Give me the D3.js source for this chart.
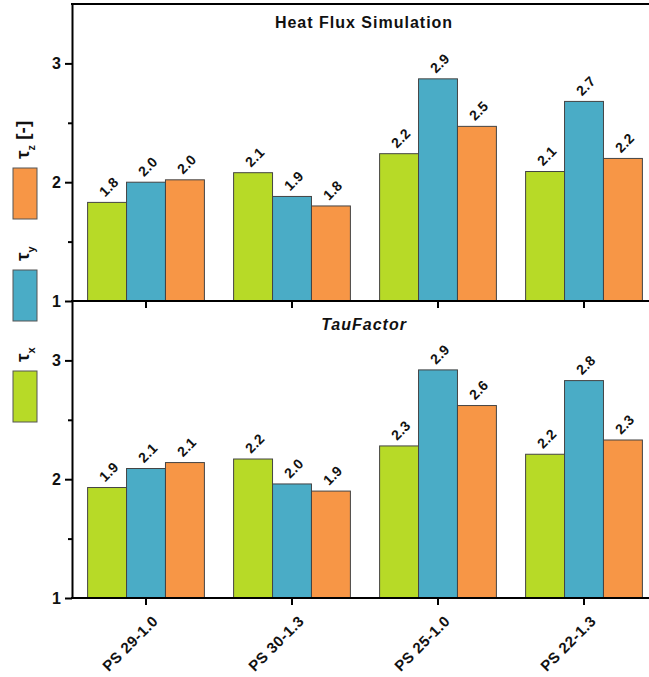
<!DOCTYPE html>
<html>
<head>
<meta charset="utf-8">
<script src="https://cdn.jsdelivr.net/npm/d3@7"></script>
<style>
  body{margin:0;background:#fff;}
  svg{display:block;font-family:"Liberation Sans",Arial,sans-serif;}
  .axis path,.axis line{stroke:#000;stroke-width:2;}
  .axis text{font-family:"Liberation Sans",Arial,sans-serif;font-size:15px;font-weight:bold;fill:#111;}
  .axis .ylab{font-size:16px;}
</style>
</head>
<body>
<div id="chart"></div>
<script>
// ---- data ----
var samples = ["PS 29-1.0","PS 30-1.3","PS 25-1.0","PS 22-1.3"];
var series  = ["tx","ty","tz"];
var seriesSub = {tx:"x", ty:"y", tz:"z"};
var heatFlux = {
    tx:[1.83,2.08,2.24,2.09],
    ty:[2.00,1.88,2.87,2.68],
    tz:[2.02,1.80,2.47,2.20]
};
var tauFactor = {
    tx:[1.93,2.17,2.28,2.21],
    ty:[2.09,1.96,2.92,2.83],
    tz:[2.14,1.90,2.62,2.33]
};
var yTicks = [1,2,3];
var yMinorTicks = [1.5,2.5];
var colors = {tx:"#b7da27", ty:"#4aacc6", tz:"#f79646"};

var width = 649, height = 677;
var left = 72;
var panels = [
    {title:"Heat Flux Simulation", italic:false, data:heatFlux, top:4, bottom:301, titleY:28},
    {title:"TauFactor", italic:true, data:tauFactor, top:301, bottom:598, titleY:330}
];

var svg = d3.select("#chart").append("svg")
    .attr("width", width).attr("height", height);

var x = d3.scaleBand().domain(samples).range([73, 657])
    .paddingInner(0.2).paddingOuter(0.1);
var xs = d3.scaleBand().domain(series).range([0, x.bandwidth()]);
var fmt = d3.format(".1f");

panels.forEach(function(p, pi){
    var y = d3.scaleLinear().domain([1, 3.5]).range([p.bottom, p.top]);
    var g = svg.append("g");

    // bars
    var grp = g.selectAll("g.grp").data(samples).enter().append("g")
        .attr("transform", function(d){ return "translate(" + x(d) + ",0)"; });
    grp.selectAll("rect").data(function(d, i){
            return series.map(function(s){ return {s:s, v:p.data[s][i]}; });
        }).enter().append("rect")
        .attr("x", function(d){ return xs(d.s); })
        .attr("y", function(d){ return y(d.v); })
        .attr("width", xs.bandwidth())
        .attr("height", function(d){ return y(1) - y(d.v); })
        .attr("fill", function(d){ return colors[d.s]; })
        .attr("stroke", "#444").attr("stroke-width", 1);
    grp.selectAll("text").data(function(d, i){
            return series.map(function(s){ return {s:s, v:p.data[s][i]}; });
        }).enter().append("text")
        .attr("transform", function(d){
            return "translate(" + (xs(d.s) + xs.bandwidth()/2 - 2) + "," + (y(d.v) - 5) + ") rotate(-45)";
        })
        .attr("font-size", "14px").attr("font-weight", "bold").attr("fill", "#111")
        .attr("letter-spacing", "0.3px")
        .text(function(d){ return fmt(d.v); });

    // title
    g.append("text").attr("x", 364).attr("y", p.titleY)
        .attr("text-anchor", "middle")
        .attr("font-size", "16px").attr("font-weight", "bold")
        .attr("font-style", p.italic ? "italic" : "normal")
        .attr("letter-spacing", "1px")
        .attr("fill", "#111")
        .text(p.title);

    // y axis
    g.append("g").attr("class", "axis").attr("transform", "translate(" + left + ",0)")
        .call(d3.axisLeft(y).tickValues(yTicks).tickSize(7).tickSizeOuter(0).tickFormat(d3.format("d")))
        .call(function(a){ a.selectAll("text").attr("class", "ylab").attr("x", -11); });
    g.append("g").attr("class", "axis").attr("transform", "translate(" + left + ",0)")
        .call(d3.axisLeft(y).tickValues(yMinorTicks).tickSize(4).tickSizeOuter(0).tickFormat(""))
        .call(function(a){ a.select(".domain").remove(); });

    // x axis
    var xa = g.append("g").attr("class", "axis").attr("transform", "translate(0," + p.bottom + ")")
        .call(d3.axisBottom(x).tickSize(7).tickSizeOuter(0));
    xa.select(".domain").attr("d", "M" + (left - 1) + ",0H" + width);
    if (pi === 0) {
        xa.selectAll("text").remove();
    } else {
        xa.selectAll("text")
            .attr("letter-spacing", "0.5px")
            .attr("text-anchor", "end")
            .attr("y", 0).attr("dy", 0)
            .attr("transform", "translate(13,24) rotate(-45)");
    }
});

// top frame line
svg.append("line").attr("x1", left - 1).attr("x2", width).attr("y1", 4).attr("y2", 4)
    .attr("stroke", "#000").attr("stroke-width", 2);

// legend (acts as y label)
var legendItems = [
    {s:"tz", top:168, extra:" [-]"},
    {s:"ty", top:270, extra:""},
    {s:"tx", top:371, extra:""}
];
var lg = svg.append("g");
lg.selectAll("rect").data(legendItems).enter().append("rect")
    .attr("x", 13).attr("y", function(d){ return d.top; })
    .attr("width", 24).attr("height", 51)
    .attr("fill", function(d){ return colors[d.s]; })
    .attr("stroke", "#555").attr("stroke-width", 1);
var lt = lg.selectAll("text").data(legendItems).enter().append("text")
    .attr("transform", function(d){ return "translate(29," + (d.top - 9) + ") rotate(-90)"; })
    .attr("font-size", "19px").attr("font-weight", "bold").attr("fill", "#111");
lt.append("tspan").text("τ");
lt.append("tspan").attr("font-size", "11px").attr("dy", "6").text(function(d){ return seriesSub[d.s]; });
lt.append("tspan").attr("dy", "-6").text(function(d){ return d.extra; });
</script>
</body>
</html>
